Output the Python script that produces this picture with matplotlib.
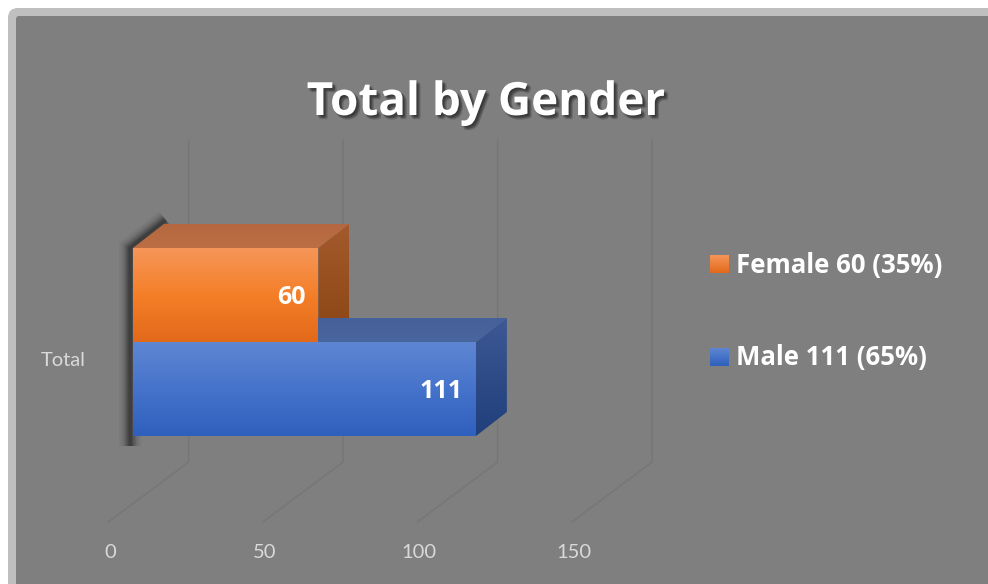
import numpy as np
import matplotlib
matplotlib.use("Agg")
import matplotlib.pyplot as plt
from matplotlib.patches import Polygon, FancyBboxPatch
from matplotlib.colors import to_rgb
import matplotlib.patheffects as pe

# data
title = "Total by Gender"
category = "Total"
genders = ["Female", "Male"]
counts = [60, 111]
ticks = [0, 50, 100, 150]

front_cols = [["#f69659", "#f47f28", "#e2691a"], ["#5e86d2", "#4673cb", "#2f60bd"]]
top_cols = [["#b5683f", "#bc6e44"], ["#45609a", "#4a669f"]]
side_cols = [["#a45a2c", "#8a4414"], ["#3d5895", "#203f7b"]]

W, H = 988, 584
k = 3.09          # px per unit
x0 = 133          # px of value 0 on front plane
depth = 10        # bar depth (units)
dy = -24          # bar depth (px)

fig = plt.figure(figsize=(W / 100, H / 100), dpi=100)
fig.patch.set_facecolor("white")

bg = fig.add_axes([0, 0, 1, 1])
bg.set_xlim(0, W)
bg.set_ylim(H, 0)
bg.axis("off")
bg.add_patch(FancyBboxPatch((8, 8), 1010, 620, boxstyle="round,pad=0,rounding_size=10",
                            facecolor="#bfbfbf", edgecolor="none"))
bg.add_patch(FancyBboxPatch((16, 16), 1000, 610, boxstyle="round,pad=0,rounding_size=3",
                            facecolor="#7f7f7f", edgecolor="none"))

ax = fig.add_axes([0, 0, 1, 1])
ax.patch.set_alpha(0)
ax.axis("off")


def grad_poly(a, verts, cols, z):
    poly = Polygon(verts, closed=True, facecolor="none", edgecolor="none", zorder=z)
    a.add_patch(poly)
    xs = [v[0] for v in verts]
    ys = [v[1] for v in verts]
    n = 128
    t = np.linspace(0, 1, n)
    stops = np.linspace(0, 1, len(cols))
    rgb = np.array([to_rgb(c) for c in cols])
    img = np.stack([np.interp(t, stops, rgb[:, j]) for j in range(3)], axis=1)[:, None, :]
    im = a.imshow(img, extent=[min(xs), max(xs), max(ys), min(ys)], aspect="auto",
                  interpolation="bilinear", zorder=z)
    im.set_clip_path(poly)


# gridlines (back wall + floor)
for v in ticks:
    ax.plot([v + 18, v + 18, v - 8], [140, 462, 522], color="#767676", lw=1, zorder=1)
    ax.text(v - 7.4, 552, str(v), color="#d9d9d9", fontsize=14.5, family="Lato",
            ha="center", va="center", zorder=2)

bar_top = 248
bar_h = 94
n = len(genders)

# soft shadow along left side
sy0 = bar_top
sy1 = bar_top + n * bar_h
for lw, al in [(16, 0.04), (13, 0.05), (10, 0.07), (8, 0.09), (6, 0.11), (4, 0.13), (2.5, 0.15)]:
    ax.plot([-0.9, -0.9, depth + 0.6], [sy1 + 10, sy0, sy0 + dy - 4], color="black",
            lw=lw, alpha=al, solid_capstyle="butt", solid_joinstyle="miter", zorder=3)

for i, (g, c) in enumerate(zip(genders, counts)):
    yt = bar_top + i * bar_h
    yb = yt + bar_h
    grad_poly(ax, [(0, yt), (depth, yt + dy), (c + depth, yt + dy), (c, yt)], top_cols[i], 4 + i)
    grad_poly(ax, [(c, yt), (c + depth, yt + dy), (c + depth, yb + dy), (c, yb)], side_cols[i], 4 + i)
    grad_poly(ax, [(0, yt), (c, yt), (c, yb), (0, yb)], front_cols[i], 6 + i)
    ax.text(c - 4.2, (yt + yb) / 2 + 2, str(c), color="white", fontsize=18, fontweight="bold",
            family="Open Sans", ha="right", va="center", zorder=10)

ax.text(-22.5, 360, category, color="#d9d9d9", fontsize=14.5, family="Lato",
        ha="center", va="center", zorder=2)

ax.set_xlim(-x0 / k, (W - x0) / k)
ax.set_ylim(H, 0)

# title with soft shadow
shadow = [pe.SimplePatchShadow(offset=(ox, oy), shadow_rgbFace="black", alpha=0.1)
          for ox, oy in [(1, -1), (2, -2), (3, -3), (2, -1), (1, -2), (3, -2), (2, -3)]]
bg.text(486, 115, title, color="white", fontsize=33, fontweight="bold", family="Open Sans",
        ha="center", va="baseline", zorder=5, path_effects=shadow + [pe.Normal()])

# legend
total = sum(counts)
leg_y = [264, 357]
for i, (g, c) in enumerate(zip(genders, counts)):
    y = leg_y[i]
    grad_poly(bg, [(710, y - 9), (729, y - 9), (729, y + 9), (710, y + 9)],
              [front_cols[i][0], front_cols[i][2]], 5)
    bg.text(736, y + 1, f"{g} {c} ({c / total:.0%})", color="white", fontsize=18.5,
            fontweight="bold", family="Open Sans", ha="left", va="center", zorder=5)

bg.set_xlim(0, W)
bg.set_ylim(H, 0)

fig.savefig("out.png", dpi=100, facecolor=fig.get_facecolor())
